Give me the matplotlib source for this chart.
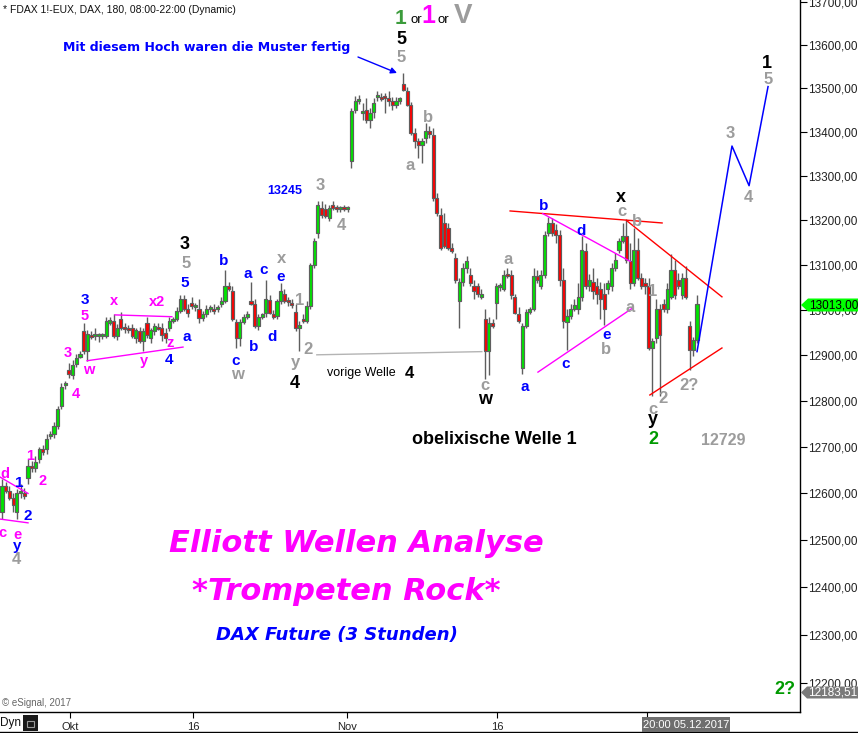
import matplotlib
matplotlib.use('Agg')
import matplotlib.pyplot as plt
import numpy as np
from matplotlib.patches import Polygon, Rectangle
from matplotlib.lines import Line2D
from matplotlib.ticker import FixedLocator, NullLocator, FuncFormatter

# ---------------- data (FDAX 3h candles) ----------------
opens = [12560, 12615, 12605, 12590, 12560, 12600, 12600, 12633, 12660, 12655,
         12675, 12695, 12695, 12723, 12728, 12745, 12788, 12835, 12867, 12856,
         12880, 12897, 12953, 12910, 12944, 12942, 12942, 12942, 12942, 12972,
         12975, 12942, 12980, 12960, 12958, 12960, 12938, 12953, 12931, 12970,
         12938, 12953, 12962, 12959, 12948, 12959, 12976, 12981, 12998, 13025,
         13002, 13016, 13007, 13002, 12983, 12991, 13002, 13002, 13002, 13014,
         13020, 13052, 13043, 12974, 12938, 12974, 12985, 13020, 13014, 12964,
         12985, 12994, 13023, 12991, 12987, 13020, 13036, 13020, 13014, 12996,
         12959, 12981, 12976, 13009, 13099, 13172, 13228, 13226, 13206, 13235,
         13228, 13226, 13228, 13226, 13334, 13450, 13470, 13443, 13450, 13427,
         13445, 13479, 13481, 13479, 13477, 13470, 13461, 13472, 13511, 13493,
         13461, 13398, 13380, 13371, 13386, 13402, 13393, 13251, 13212, 13194,
         13183, 13138, 13115, 13020, 13063, 13093, 13077, 13054, 13052, 13029,
         12981, 12910, 12970, 13016, 13050, 13047, 13079, 13077, 13029, 12991,
         12873, 12964, 12996, 13002, 13075, 13054, 13077, 13172, 13194, 13178,
         13167, 13066, 12974, 12987, 13002, 13002, 13029, 13131, 13052, 13063,
         13052, 13047, 13036, 13047, 13052, 13093, 13133, 13154, 13165, 13108,
         13059, 13133, 13070, 13059, 13054, 12916, 12938, 13002, 13014, 13002,
         13029, 13088, 13066, 13032, 13070, 12964, 12912, 12933]
highs = [12630, 12625, 12615, 12600, 12610, 12620, 12612, 12675, 12670, 12680,
         12700, 12705, 12728, 12735, 12755, 12790, 12840, 12843, 12884, 12890,
         12903, 12910, 12970, 12955, 12953, 12959, 12950, 12950, 12985, 12985,
         12990, 12968, 12995, 12970, 12966, 12968, 12960, 12963, 12959, 12985,
         12959, 12970, 12970, 12970, 12959, 12985, 12985, 13007, 13034, 13032,
         13014, 13029, 13016, 13025, 12998, 13011, 13011, 13014, 13011, 13029,
         13088, 13063, 13052, 12981, 12981, 12990, 12998, 13063, 13025, 12991,
         12994, 13066, 13034, 13000, 13025, 13059, 13047, 13029, 13025, 13014,
         12976, 12990, 13020, 13104, 13160, 13244, 13244, 13237, 13235, 13244,
         13235, 13233, 13235, 13233, 13454, 13482, 13484, 13466, 13477, 13454,
         13477, 13493, 13490, 13490, 13493, 13479, 13481, 13481, 13536, 13504,
         13468, 13409, 13386, 13386, 13420, 13414, 13409, 13262, 13228, 13217,
         13194, 13149, 13127, 13070, 13104, 13120, 13093, 13066, 13059, 13047,
         13002, 12985, 12981, 13059, 13059, 13088, 13093, 13088, 13036, 13007,
         12970, 13002, 13007, 13093, 13088, 13088, 13176, 13208, 13206, 13192,
         13178, 13093, 13002, 13014, 13025, 13059, 13165, 13149, 13079, 13093,
         13070, 13063, 13059, 13066, 13104, 13127, 13160, 13194, 13203, 13149,
         13183, 13160, 13081, 13070, 13070, 12938, 13025, 13014, 13025, 13059,
         13124, 13111, 13081, 13081, 13097, 12976, 12940, 13034]
lows = [12545, 12600, 12585, 12560, 12545, 12590, 12588, 12620, 12645, 12645,
        12665, 12683, 12685, 12718, 12720, 12740, 12783, 12826, 12850, 12848,
        12875, 12893, 12903, 12888, 12936, 12933, 12930, 12935, 12938, 12966,
        12938, 12933, 12955, 12950, 12948, 12938, 12927, 12927, 12910, 12938,
        12927, 12944, 12955, 12931, 12927, 12953, 12970, 12976, 12994, 12998,
        12985, 13002, 12998, 12970, 12976, 12985, 12996, 12991, 12996, 13007,
        13016, 13043, 12976, 12916, 12921, 12968, 12981, 13011, 12959, 12955,
        12981, 12985, 12991, 12981, 12981, 13014, 13016, 13009, 13005, 12953,
        12910, 12970, 12970, 13002, 13093, 13160, 13206, 13206, 13199, 13224,
        13219, 13219, 13220, 13219, 13319, 13443, 13463, 13427, 13420, 13409,
        13432, 13472, 13470, 13443, 13459, 13450, 13454, 13463, 13495, 13459,
        13393, 13364, 13341, 13330, 13375, 13386, 13244, 13210, 13133, 13138,
        13133, 13126, 13059, 12959, 13052, 13081, 13052, 13025, 13029, 13025,
        12848, 12856, 12959, 12981, 13043, 13041, 13070, 13025, 12991, 12970,
        12858, 12959, 12990, 12998, 13059, 13047, 13070, 13165, 13165, 13149,
        13052, 12959, 12912, 12981, 12998, 12991, 13020, 13047, 13043, 13025,
        13014, 12981, 12966, 13036, 13043, 13086, 13126, 13149, 13104, 13047,
        13052, 13066, 13047, 13036, 12912, 12811, 12927, 12811, 12996, 12994,
        13025, 13025, 13047, 13025, 13025, 12867, 12899, 12927]
closes = [12615, 12605, 12590, 12575, 12600, 12603, 12595, 12660, 12655, 12668,
          12695, 12690, 12718, 12725, 12745, 12783, 12831, 12840, 12858, 12878,
          12895, 12903, 12910, 12946, 12940, 12944, 12942, 12945, 12975, 12975,
          12942, 12960, 12960, 12957, 12955, 12942, 12955, 12931, 12953, 12944,
          12955, 12964, 12958, 12944, 12938, 12976, 12978, 12998, 13025, 13002,
          12994, 13009, 13009, 12983, 12991, 13002, 13005, 12998, 13002, 13020,
          13052, 13047, 12981, 12938, 12974, 12985, 12991, 13014, 12964, 12985,
          12987, 13025, 12994, 12985, 13020, 13041, 13020, 13018, 13011, 12959,
          12966, 12976, 13009, 13099, 13154, 13235, 13212, 13210, 13228, 13228,
          13226, 13228, 13226, 13230, 13447, 13470, 13473, 13445, 13427, 13443,
          13466, 13481, 13475, 13477, 13470, 13461, 13470, 13475, 13497, 13461,
          13398, 13380, 13371, 13380, 13402, 13395, 13251, 13217, 13138, 13142,
          13138, 13131, 13066, 13063, 13093, 13108, 13059, 13041, 13036, 13036,
          12910, 12970, 12964, 13052, 13052, 13077, 13075, 13032, 12994, 12976,
          12964, 12996, 13000, 13075, 13066, 13077, 13167, 13194, 13172, 13167,
          13066, 12976, 12987, 13002, 13011, 13029, 13133, 13052, 13066, 13041,
          13036, 13025, 13002, 13059, 13093, 13111, 13154, 13165, 13111, 13059,
          13133, 13070, 13054, 13052, 12916, 12931, 13002, 12944, 13002, 13047,
          13088, 13032, 13052, 13070, 13029, 12912, 12933, 13013]

price_ticks = [12200, 12300, 12400, 12500, 12600, 12700, 12800, 12900,
               13000, 13100, 13200, 13300, 13400, 13500, 13600, 13700]
date_labels = ['Okt', '16', 'Nov', '16', 'D']
date_label_bars = [18.3, 51.4, 92.8, 133.2, 173.5]   # bar index where each date starts
last_price = 13013.00
cursor_price = 12183.51
cursor_time = '20:00 05.12.2017'

# analysis lines: (bar index, price) pairs
tri_small_upper = ([-0.5, 7.0], [12635, 12600])
tri_small_lower = ([-0.5, 7.0], [12545, 12537])
tri_mid_upper = ([30.4, 45.7], [12989, 12985])
tri_mid_lower = ([22.9, 48.7], [12888, 12918])
prev_wave4 = ([84.7, 129.1], [12901, 12908])
red_top = ([136.7, 177.6], [13221, 13194])
red_down = ([168.1, 193.7], [13199, 13029])
red_low = ([174.3, 193.7], [12813, 12916])
mag_bd = ([145.5, 169.0], [13215, 13108])
mag_ce = ([144.2, 169.8], [12863, 13005])
projection = ([187.0, 196.4, 201.0, 206.1], [12908, 13368, 13278, 13504])

# ---------------- figure ----------------
W, H = 858, 733
AXW, AXH = 800, 712
fig = plt.figure(figsize=(W / 100, H / 100), dpi=100)
fig.patch.set_facecolor('white')
ax = fig.add_axes([0, (H - AXH) / H, AXW / W, AXH / H])
ax.set_facecolor('white')

o = np.array(opens, float); h = np.array(highs, float)
l = np.array(lows, float); c = np.array(closes, float)
x = np.arange(len(o))
up = c >= o
fill = np.where(up, '#00e400', '#ff0000')
edge = '#5e5e5e'
ax.vlines(x, l, h, color=edge, lw=1.0, zorder=2)
bottom = np.minimum(o, c)
height = np.maximum(np.abs(c - o), 5.0)
ax.bar(x, height, bottom=bottom, width=0.84, color=fill, edgecolor=edge,
       linewidth=0.85, zorder=3)

ax.set_yscale('log')
ax.set_ylim(12139.5, 13704.7)
ax.set_xlim(-0.538, 214.7)

ax.yaxis.tick_right()
ax.yaxis.set_major_locator(FixedLocator(price_ticks))
ax.yaxis.set_minor_locator(NullLocator())
ax.yaxis.set_major_formatter(FuncFormatter(lambda v, p: f"{v:.2f}".replace('.', ',')))
ax.tick_params(axis='y', direction='out', length=5, width=0.8, pad=1,
               labelsize=8.5, labelcolor='#222222', color='black')
ax.set_xticks(date_label_bars)
ax.set_xticklabels(date_labels)
ax.xaxis.set_minor_locator(NullLocator())
ax.tick_params(axis='x', direction='out', length=4, width=0.8, pad=3,
               labelsize=8, labelcolor='#222222')
for lab_ in ax.get_yticklabels() + ax.get_xticklabels():
    lab_.set_family('Liberation Sans')
for s in ['top', 'left']:
    ax.spines[s].set_visible(False)
for s in ['right', 'bottom']:
    ax.spines[s].set_color('black')
    ax.spines[s].set_linewidth(1.0)

# analysis lines
MAG = '#ff00ff'; BLUE = '#0000ff'; GRAY = '#9c9c9c'; BLK = '#000000'
GRN = '#009a00'; RED = '#ff0000'
for seg, col in [(tri_small_upper, MAG), (tri_small_lower, MAG),
                 (tri_mid_upper, MAG), (tri_mid_lower, MAG),
                 (prev_wave4, '#b4b4b4'), (red_top, RED), (red_down, RED),
                 (red_low, RED), (mag_bd, MAG), (mag_ce, MAG)]:
    ax.plot(seg[0], seg[1], color=col, lw=1.0, zorder=4)
ax.plot(projection[0], projection[1], color=BLUE, lw=1.1, zorder=4)

# ---------------- text ----------------
def ftxt(px, py, s, color, size, weight='bold', family='Liberation Sans', **kw):
    fig.text(px / W, 1 - py / H, s, color=color, fontsize=size, fontweight=weight,
             family=family, ha=kw.pop('ha', 'center'), va=kw.pop('va', 'center'), **kw)

ftxt(3, 10, '* FDAX 1!-EUX, DAX, 180, 08:00-22:00 (Dynamic)', '#111111', 7.5,
     weight='normal', ha='left')

labels = [
    ('1', 401, 18, '#3c9c3c', 15), ('1', 428, 16, MAG, 18), ('V', 463, 16, GRAY, 20),
    ('5', 401, 39, BLK, 13), ('5', 401, 58, GRAY, 12),
    ('b', 428, 118, GRAY, 12), ('a', 410, 166, GRAY, 12),
    ('3', 320, 185, GRAY, 12), ('4', 341, 225, GRAY, 12),
    ('13245', 285, 191, BLUE, 9),
    ('3', 185, 244, BLK, 13), ('5', 186, 263, GRAY, 12), ('5', 185, 283, BLUE, 11),
    ('a', 187, 337, BLUE, 11),
    ('3', 85, 300, BLUE, 11), ('5', 85, 316, MAG, 10.5), ('x', 114, 301, MAG, 10.5),
    ('x2', 157, 302, MAG, 10.5), ('3', 68, 353, MAG, 10.5), ('w', 89, 370, MAG, 10.5),
    ('4', 76, 394, MAG, 10.5), ('y', 144, 361, MAG, 10.5), ('z', 170, 343, MAG, 10.5),
    ('4', 169, 360, BLUE, 11),
    ('1', 30, 456, MAG, 10.5), ('2', 43, 481, MAG, 10.5), ('d', 5, 474, MAG, 10.5),
    ('1', 19, 483, BLUE, 11), ('2', 28, 516, BLUE, 11), ('c', 2, 533, MAG, 10.5),
    ('e', 17, 535, MAG, 10.5), ('y', 17, 546, BLUE, 11), ('4', 16, 559, GRAY, 12),
    ('b', 224, 261, BLUE, 11), ('c', 236, 361, BLUE, 11), ('w', 237, 374, GRAY, 12),
    ('a', 248, 274, BLUE, 11), ('c', 264, 270, BLUE, 11), ('x', 282, 259, GRAY, 12),
    ('e', 281, 277, BLUE, 11), ('b', 254, 347, BLUE, 11), ('d', 272, 337, BLUE, 11),
    ('1', 300, 301, GRAY, 12), ('2', 308, 349, GRAY, 12), ('y', 295, 363, GRAY, 12),
    ('4', 295, 383, BLK, 13), ('4', 409, 373, BLK, 12),
    ('c', 485, 385, GRAY, 12), ('w', 485, 400, BLK, 13), ('a', 508, 260, GRAY, 12),
    ('a', 525, 387, BLUE, 11), ('b', 544, 206, BLUE, 11), ('d', 581, 231, BLUE, 11),
    ('c', 566, 364, BLUE, 11), ('e', 607, 335, BLUE, 11), ('b', 606, 350, GRAY, 12),
    ('a', 630, 308, GRAY, 12), ('x', 621, 198, BLK, 13), ('c', 622, 212, GRAY, 12),
    ('b', 637, 221, GRAY, 12), ('1', 653, 291, GRAY, 12), ('2', 663, 398, GRAY, 12),
    ('c', 653, 409, GRAY, 12), ('y', 653, 420, BLK, 13), ('2', 653, 440, GRN, 13),
    ('2?', 689, 385, GRAY, 12), ('12729', 723, 441, GRAY, 11.5),
    ('3', 730, 134, GRAY, 12), ('4', 748, 198, GRAY, 12), ('5', 768, 79, GRAY, 12),
    ('1', 767, 63, BLK, 13), ('2?', 785, 690, GRN, 13),
]
for s, px, py, col, size in labels:
    ftxt(px, py, s, col, size)

ftxt(416, 20, 'or', BLK, 9.5, weight='normal')
ftxt(443, 20, 'or', BLK, 9.5, weight='normal')
ftxt(207, 48, 'Mit diesem Hoch waren die Muster fertig', BLUE, 9, family='DejaVu Sans')
ax.annotate('', xy=(397 / AXW, 1 - 73 / AXH), xytext=(358 / AXW, 1 - 57 / AXH),
            xycoords='axes fraction', textcoords='axes fraction',
            arrowprops=dict(arrowstyle='-|>', color=BLUE, lw=1.0, mutation_scale=9,
                            shrinkA=0, shrinkB=0))
ftxt(361, 373, 'vorige Welle', BLK, 9, weight='normal')
ftxt(494, 439, 'obelixische Welle 1', BLK, 13)

ftxt(356, 543, 'Elliott Wellen Analyse', MAG, 22, family='DejaVu Sans', style='italic')
ftxt(346, 592, '*Trompeten Rock*', MAG, 22, family='DejaVu Sans', style='italic')
ftxt(337, 635, 'DAX Future (3 Stunden)', BLUE, 13, family='DejaVu Sans', style='italic')

ftxt(2, 703, '\u00a9 eSignal, 2017', '#666666', 7, weight='normal', ha='left')

# price markers on the right axis
def fpoly(pts, color):
    fig.add_artist(Polygon([(px / W, 1 - py / H) for px, py in pts], closed=True,
                           facecolor=color, edgecolor='none', transform=fig.transFigure,
                           zorder=5))
fpoly([(801, 305), (808, 298.5), (858, 298.5), (858, 311.5), (808, 311.5)], '#00ff00')
ftxt(809, 305, f"{last_price:.2f}".replace('.', ','), BLK, 8.5, weight='normal',
     ha='left', zorder=6)
fpoly([(801, 692.5), (807, 686.5), (858, 686.5), (858, 698.5), (807, 698.5)], '#7a7a7a')
ftxt(808, 692.5, f"{cursor_price:.2f}".replace('.', ','), 'white', 8.5, weight='normal',
     ha='left', zorder=6)

# time cursor box
fig.add_artist(Rectangle((642 / W, 1 - 732 / H), 88 / W, 15 / H, transform=fig.transFigure,
                         facecolor='#6e6e6e', edgecolor='none', zorder=5))
ftxt(686, 725, cursor_time, 'white', 8, weight='normal', zorder=6)

# bottom strip
ftxt(0, 723, 'Dyn', '#111111', 8.5, weight='normal', ha='left')
fig.add_artist(Rectangle((23 / W, 1 - 731 / H), 15 / W, 16 / H, transform=fig.transFigure,
                         facecolor='#1a1a1a', edgecolor='none', zorder=5))
fig.add_artist(Rectangle((27 / W, 1 - 727 / H), 7 / W, 6 / H, transform=fig.transFigure,
                         facecolor='none', edgecolor='#9a9a9a', lw=0.8, zorder=6))
fig.add_artist(Line2D([0, 1], [1.5 / H, 1.5 / H], color='black', lw=1.0,
                      transform=fig.transFigure))

fig.savefig('out.png', dpi=100)
